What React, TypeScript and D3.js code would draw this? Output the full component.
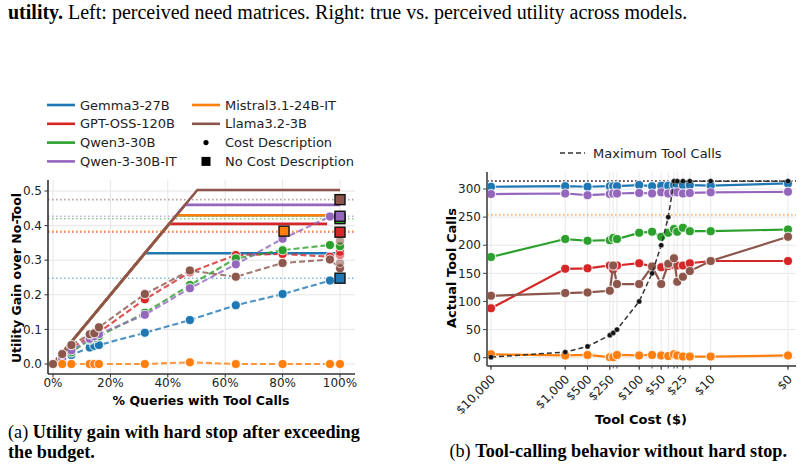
import React from "react";
import * as d3 from "d3";

const W = 802;
const H = 467;

const models = ["Gemma3-27B", "GPT-OSS-120B", "Qwen3-30B", "Qwen-3-30B-IT", "Mistral3.1-24B-IT", "Llama3.2-3B"];
const colors = ["#1f77b4", "#d62728", "#2ca02c", "#9467bd", "#ff7f0e", "#8c564b"];

// left panel: utility gain vs % queries with tool calls
const queryPct = [0, 3.2, 6.4, 12.8, 14.4, 16, 32, 47.7, 63.7, 80, 96.5, 100];
const utilGemma = [0, 0.013, 0.026, 0.048, 0.053, 0.055, 0.09, 0.127, 0.17, 0.202, 0.241, null];
const utilGptOss = [0, 0.022, 0.048, 0.078, 0.083, 0.092, 0.187, 0.265, 0.315, 0.318, 0.31, 0.325];
const utilQwen3 = [0, 0.02, 0.034, 0.07, 0.075, 0.08, 0.148, 0.228, 0.305, 0.329, 0.344, 0.34];
const utilQwenIT = [0, 0.016, 0.04, 0.073, 0.08, 0.087, 0.142, 0.219, 0.288, 0.362, 0.426, null];
const utilMistral = [0, 0, 0, 0, 0, 0, 0, 0.005, 0, 0, 0, 0];
const utilLlama = [0, 0.029, 0.055, 0.086, 0.089, 0.106, 0.202, 0.27, 0.252, 0.292, 0.302, 0.277];
const utilByModel = [utilGemma, utilGptOss, utilQwen3, utilQwenIT, utilMistral, utilLlama];
const oracleCap = [0.32, 0.405, 0.43, 0.46, 0.43, 0.503];
const oracleEnd = [100, 95.5, 95.5, 100, 95.5, 100];
const noCostPct = [100, 100, 100, 100, 80.5, 100];
const noCostUtil = [0.248, 0.381, 0.42, 0.427, 0.384, 0.475];
const fadedModel = [5, 5, 1];
const fadedUtil = [0.356, 0.292, 0.315];
const leftXTicks = [0, 20, 40, 60, 80, 100];
const leftYTicks = [0, 0.1, 0.2, 0.3, 0.4, 0.5];

// right panel: tool calls vs tool cost
const costs = [10000, 1000, 500, 250, 225, 200, 100, 66.7, 50, 40, 33.3, 30, 25, 20, 10, 0];
const maxCalls = [1, 10, 20, 40, 44, 50, 100, 150, 200, 250, 314, 314, 314, 314, 314, 314];
const callsGemma = [304, 305, 304, 305, 305, 305, 307, 305, 306, 306, 307, 308, 307, 307, 306, 310];
const callsGptOss = [88, 158, 159, 164, 157, 164, 168, 162, 161, 163, 165, 164, 164, 168, 172, 172];
const callsQwen3 = [179, 211, 208, 209, 213, 211, 222, 224, 215, 222, 229, 224, 231, 225, 225, 228];
const callsQwenIT = [291, 292, 289, 291, 292, 292, 293, 292, 294, 292, 294, 294, 292, 293, 294, 295];
const callsMistral = [6, 4, 5, 1, 1, 5, 4, 5, 4, 3, 6, 4, 2, 2, 2, 4];
const callsLlama = [110, 115, 116, 119, 164, 131, 131, 162, 131, 167, 177, 135, 144, 154, 172, 215];
const callsByModel = [callsGemma, callsGptOss, callsQwen3, callsQwenIT, callsMistral, callsLlama];
const noCostCalls = [314, 314, 314, 314, 254, 314];
const costTicks = [10000, 1000, 500, 250, 100, 50, 25, 10, 0];
const callTicks = [0, 50, 100, 150, 200, 250, 300];

const sans = "DejaVu Sans, sans-serif";
const serif = "Liberation Serif, Times New Roman, serif";

function LeftPanel() {
  const x = d3.scaleLinear().domain([0, 100]).range([53, 340]);
  const y = d3.scaleLinear().domain([0, 0.5]).range([364, 191]);
  const left = 48, right = 355, top = 180, bottom = 374;

  const dashed = d3
    .line<[number, number | null]>()
    .defined((d) => d[1] !== null)
    .x((d) => x(d[0]))
    .y((d) => y(d[1] as number));
  const solid = d3.line<[number, number]>().x((d) => x(d[0])).y((d) => y(d[1]));

  const legendRows = [0, 1, 2, 3];
  return (
    <g>
      {/* grid */}
      {leftXTicks.map((t) => (
        <line key={"gx" + t} x1={x(t)} x2={x(t)} y1={top} y2={bottom} stroke="#e6e6e6" strokeWidth={1} />
      ))}
      {leftYTicks.map((t) => (
        <line key={"gy" + t} x1={left} x2={right} y1={y(t)} y2={y(t)} stroke="#e6e6e6" strokeWidth={1} />
      ))}
      {/* no-cost reference lines */}
      {noCostUtil.map((v, i) => (
        <line key={"dot" + i} x1={left} x2={right} y1={y(v)} y2={y(v)} stroke={colors[i]} strokeOpacity={0.55}
          strokeWidth={1.6} strokeDasharray="1.5,2.5" />
      ))}
      {/* oracle lines */}
      {oracleCap.map((c, i) => (
        <path key={"or" + i} d={solid([[0, 0], [c * 100, c], [oracleEnd[i], c]]) || ""} fill="none"
          stroke={colors[i]} strokeWidth={2.6} />
      ))}
      {/* cost description curves */}
      {utilByModel.map((vals, i) => {
        const pts = queryPct.map((p, j) => [p, vals[j]] as [number, number | null]);
        return (
          <g key={"cd" + i}>
            <path d={dashed(pts) || ""} fill="none" stroke={colors[i]} strokeOpacity={0.8} strokeWidth={2.1}
              strokeDasharray="6,3" />
            {pts.filter((d) => d[1] !== null).map((d, j) => (
              <circle key={j} cx={x(d[0])} cy={y(d[1] as number)} r={4.6} fill={colors[i]}
                stroke="#fff" strokeOpacity={0.75} strokeWidth={1.2} />
            ))}
          </g>
        );
      })}
      {fadedModel.map((m, i) => (
        <circle key={"fd" + i} cx={x(100)} cy={y(fadedUtil[i])} r={4.6} fill={colors[m]} fillOpacity={0.55}
          stroke="#fff" strokeOpacity={0.6} strokeWidth={1} />
      ))}
      {/* no cost description squares */}
      {noCostUtil.map((v, i) => (
        <rect key={"sq" + i} x={x(noCostPct[i]) - 5} y={y(v) - 5} width={10} height={10} fill={colors[i]}
          stroke="#111" strokeWidth={1.4} />
      ))}
      {/* spines */}
      <line x1={left} x2={left} y1={top} y2={bottom} stroke="#333" strokeWidth={1.6} />
      <line x1={left} x2={right} y1={bottom} y2={bottom} stroke="#333" strokeWidth={1.6} />
      {leftXTicks.map((t) => (
        <g key={"xt" + t}>
          <line x1={x(t)} x2={x(t)} y1={bottom} y2={bottom + 3.5} stroke="#333" />
          <text x={x(t)} y={bottom + 13} fontSize={12} fontFamily={sans} textAnchor="middle" fill="#222">
            {t}%
          </text>
        </g>
      ))}
      {leftYTicks.map((t) => (
        <g key={"yt" + t}>
          <line x1={left - 3.5} x2={left} y1={y(t)} y2={y(t)} stroke="#333" />
          <text x={left - 6} y={y(t)} dy="0.35em" fontSize={12} fontFamily={sans} textAnchor="end" fill="#222">
            {t.toFixed(1)}
          </text>
        </g>
      ))}
      <text x={201} y={405} fontSize={12.5} fontWeight="bold" fontFamily={sans} textAnchor="middle">
        % Queries with Tool Calls
      </text>
      <text transform={`translate(21,${278}) rotate(-90)`} fontSize={12.5} fontWeight="bold" fontFamily={sans}
        textAnchor="middle">
        Utility Gain over No-Tool
      </text>
      {/* legend */}
      {legendRows.map((r) => (
        <g key={"lg" + r}>
          <line x1={47} x2={75} y1={105 + r * 18.8} y2={105 + r * 18.8} stroke={colors[r]} strokeWidth={2.6} />
          <text x={80} y={105 + r * 18.8} dy="0.36em" fontSize={13} fontFamily={sans} fill="#222">
            {models[r]}
          </text>
        </g>
      ))}
      {[4, 5].map((m, r) => (
        <g key={"lg2" + m}>
          <line x1={192} x2={220} y1={105 + r * 18.8} y2={105 + r * 18.8} stroke={colors[m]} strokeWidth={2.6} />
          <text x={225} y={105 + r * 18.8} dy="0.36em" fontSize={13} fontFamily={sans} fill="#222">
            {models[m]}
          </text>
        </g>
      ))}
      <circle cx={206} cy={105 + 2 * 18.8} r={2.6} fill="#000" />
      <text x={225} y={105 + 2 * 18.8} dy="0.36em" fontSize={13} fontFamily={sans} fill="#222">
        Cost Description
      </text>
      <rect x={201.5} y={105 + 3 * 18.8 - 4.5} width={9} height={9} fill="#000" />
      <text x={225} y={105 + 3 * 18.8} dy="0.36em" fontSize={13} fontFamily={sans} fill="#222">
        No Cost Description
      </text>
    </g>
  );
}

function RightPanel() {
  const x = d3.scaleSymlog().constant(1).domain([10000, 0]).range([491, 788]);
  const y = d3.scaleLinear().domain([0, 300]).range([357.7, 189]);
  const left = 487, right = 796, top = 172, bottom = 366;

  const line = d3.line<[number, number]>().x((d) => x(d[0])).y((d) => y(d[1]));
  const maxPts = costs.map((c, j) => [c, maxCalls[j]] as [number, number]);

  return (
    <g>
      {costs.map((c, j) => (
        <line key={"gx" + j} x1={x(c)} x2={x(c)} y1={top} y2={bottom} stroke="#e8e8e8" strokeWidth={1} />
      ))}
      {callTicks.map((t) => (
        <line key={"gy" + t} x1={left} x2={right} y1={y(t)} y2={y(t)} stroke="#e8e8e8" strokeWidth={1} />
      ))}
      {noCostCalls.map((v, i) => (
        <line key={"nc" + i} x1={left} x2={right} y1={y(v)} y2={y(v)} stroke={colors[i]} strokeOpacity={0.6}
          strokeWidth={1.6} strokeDasharray="1.5,2.5" />
      ))}
      <line x1={left} x2={right} y1={y(314)} y2={y(314)} stroke="#222" strokeOpacity={0.4} strokeWidth={1.4}
        strokeDasharray="1.5,2.5" />
      {callsByModel.map((vals, i) => {
        const pts = costs.map((c, j) => [c, vals[j]] as [number, number]);
        return (
          <g key={"m" + i}>
            <path d={line(pts) || ""} fill="none" stroke={colors[i]} strokeWidth={2.2} />
            {pts.map((d, j) => (
              <circle key={j} cx={x(d[0])} cy={y(d[1])} r={4.6} fill={colors[i]} stroke="#fff"
                strokeOpacity={0.75} strokeWidth={1.2} />
            ))}
          </g>
        );
      })}
      <path d={line(maxPts) || ""} fill="none" stroke="#333" strokeWidth={1.5} strokeDasharray="5,3" />
      {maxPts.map((d, j) => (
        <circle key={"mx" + j} cx={x(d[0])} cy={y(d[1])} r={2.6} fill="#111" stroke="#fff" strokeOpacity={0.6}
          strokeWidth={0.6} />
      ))}
      <line x1={left} x2={left} y1={top} y2={bottom} stroke="#666" strokeWidth={2} />
      <line x1={left} x2={right} y1={bottom} y2={bottom} stroke="#666" strokeWidth={2} />
      {costs.map((c, j) => (
        <line key={"mt" + j} x1={x(c)} x2={x(c)} y1={bottom} y2={bottom + 2.5} stroke="#444" />
      ))}
      {costTicks.map((c) => (
        <g key={"xt" + c}>
          <line x1={x(c)} x2={x(c)} y1={bottom} y2={bottom + 4} stroke="#444" />
          <text transform={`translate(${x(c) + 2},${bottom + 11}) rotate(-45)`} fontSize={12} fontFamily={sans}
            textAnchor="end" dy="0.35em" fill="#222">
            {"$" + d3.format(",")(c)}
          </text>
        </g>
      ))}
      {callTicks.map((t) => (
        <g key={"yt" + t}>
          <line x1={left - 4} x2={left} y1={y(t)} y2={y(t)} stroke="#444" />
          <text x={left - 6} y={y(t)} dy="0.35em" fontSize={12} fontFamily={sans} textAnchor="end" fill="#222">
            {t}
          </text>
        </g>
      ))}
      <text x={641} y={424} fontSize={13} fontWeight="bold" fontFamily={sans} textAnchor="middle">
        Tool Cost ($)
      </text>
      <text transform={`translate(456,${268}) rotate(-90)`} fontSize={13} fontWeight="bold" fontFamily={sans}
        textAnchor="middle">
        Actual Tool Calls
      </text>
      <line x1={560} x2={585} y1={153} y2={153} stroke="#333" strokeWidth={1.5} strokeDasharray="5,3" />
      <text x={593} y={153} dy="0.36em" fontSize={13} fontFamily={sans} fill="#222">
        Maximum Tool Calls
      </text>
    </g>
  );
}

export default function App() {
  return (
    <svg width={W} height={H} style={{ position: "absolute", left: 0, top: 0, background: "#fff" }}>
      <rect width={W} height={H} fill="#fff" />
      <text x={8} y={19} fontSize={20} fontFamily={serif}>
        <tspan fontWeight="bold">utility.</tspan> Left: perceived need matrices. Right: true vs. perceived utility
        across models.
      </text>
      <LeftPanel />
      <RightPanel />
      <text x={8} y={438} fontSize={18.2} fontFamily={serif}>
        (a) <tspan fontWeight="bold">Utility gain with hard stop after exceeding</tspan>
      </text>
      <text x={8} y={458} fontSize={18.2} fontFamily={serif} fontWeight="bold">
        the budget.
      </text>
      <text x={787} y={457} fontSize={18.2} fontFamily={serif} textAnchor="end">
        (b) <tspan fontWeight="bold">Tool-calling behavior without hard stop.</tspan>
      </text>
    </svg>
  );
}
